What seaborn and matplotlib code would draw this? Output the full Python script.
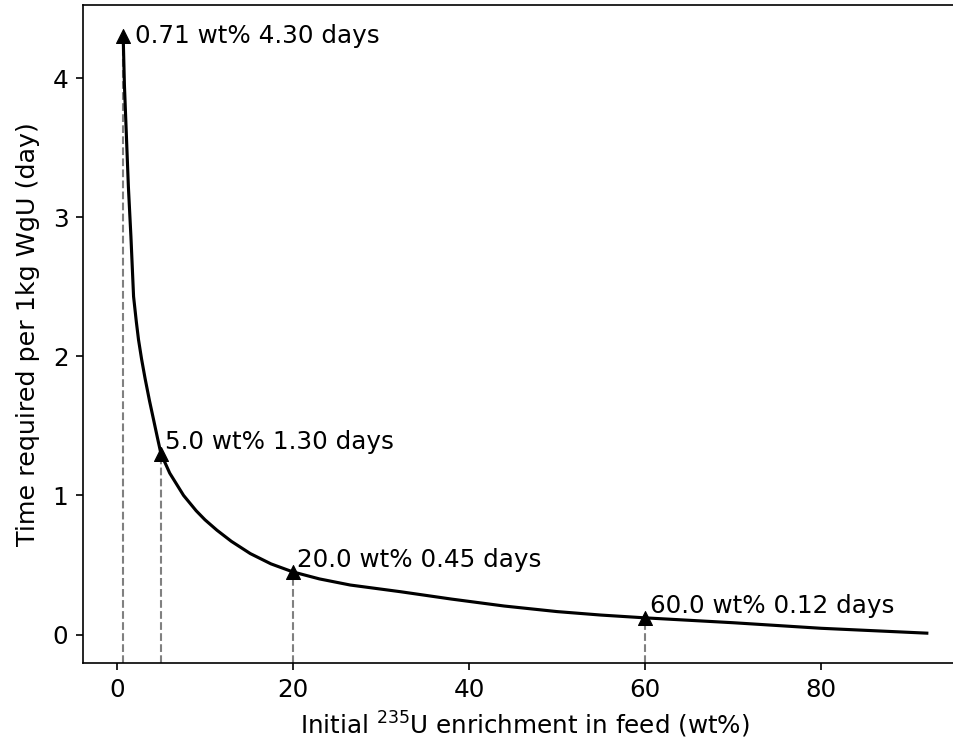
import matplotlib
matplotlib.use("Agg")
import matplotlib.pyplot as plt
import seaborn as sns

# Time needed per 1 kg WgU versus initial U-235 enrichment of the feed
enrichment = [0.71, 0.85, 1.06, 1.3, 1.59, 1.89, 2.2, 2.45, 2.8, 3.2, 3.7, 4.16,
              4.6, 5.0, 6.0, 7.57, 9.0, 10.0, 11.36, 13.0, 15.15, 17.5, 20.0,
              23.0, 26.5, 32.2, 38.0, 44.0, 50.0, 55.0, 60.0, 70.0, 80.0, 92.0]
time_days = [4.30, 3.95, 3.61, 3.22, 2.86, 2.43, 2.25, 2.12, 1.98, 1.84, 1.68, 1.545,
             1.415, 1.30, 1.16, 1.00, 0.89, 0.825, 0.75, 0.67, 0.582, 0.508, 0.45,
             0.40, 0.356, 0.308, 0.255, 0.205, 0.165, 0.14, 0.12, 0.085, 0.045, 0.01]

# Highlighted feed enrichments
key_enrichment = [0.71, 5.0, 20.0, 60.0]
key_time = [4.30, 1.30, 0.45, 0.12]
key_labels = ["0.71 wt% 4.30 days", "5.0 wt% 1.30 days",
              "20.0 wt% 0.45 days", "60.0 wt% 0.12 days"]

plt.rcParams['font.family'] = ['DejaVu Sans']
FS = 11.8
fig = plt.figure(figsize=(9.54 / 1.5, 7.5 / 1.5), dpi=150)
ax = fig.add_axes([83 / 954, 87 / 750, (967 - 83) / 954, (663 - 5) / 750])

sns.lineplot(x=enrichment, y=time_days, color="black", linewidth=1.5, ax=ax)
ax.autoscale_view()
ybottom = ax.get_ylim()[0]

ax.vlines(key_enrichment, ybottom, key_time, colors="gray", linestyles="--",
          linewidth=1.0, zorder=1)
sns.scatterplot(x=key_enrichment, y=key_time, marker="^", color="black",
                s=45, edgecolor="black", linewidth=0.5, ax=ax, zorder=3)
ax.set_ylim(bottom=ybottom)

offsets = [(1.3, "center"), (0.5, "bottom"), (0.5, "bottom"), (0.5, "bottom")]
for xv, yv, lab, (dx, va) in zip(key_enrichment, key_time, key_labels, offsets):
    ax.text(xv + dx, yv, lab, fontsize=FS, va=va, ha="left")

ax.spines["right"].set_visible(False)
ax.set_xticks([0, 20, 40, 60, 80])
ax.set_yticks([0, 1, 2, 3, 4])
ax.tick_params(labelsize=FS)
ax.set_xlabel("Initial $^{235}$U enrichment in feed (wt%)", fontsize=FS)
ax.set_ylabel("Time required per 1kg WgU (day)", fontsize=12.2, labelpad=6)

fig.savefig("out.png", dpi=150)
